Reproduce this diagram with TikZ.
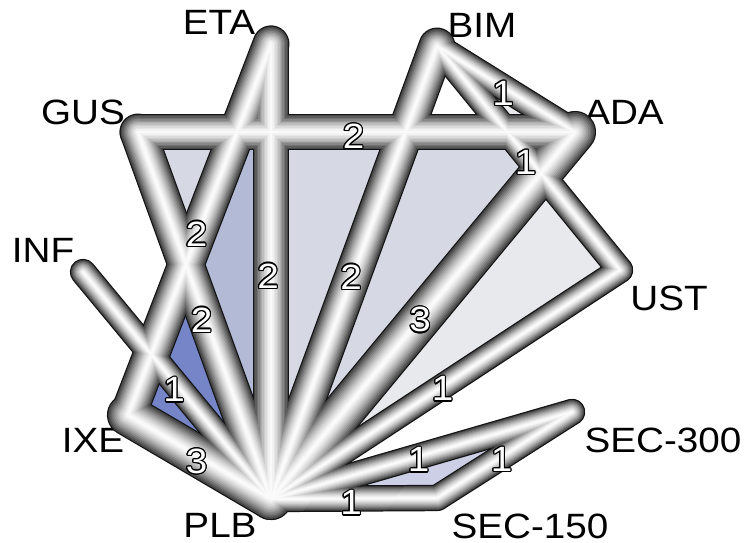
\documentclass[tikz,border=0pt]{standalone}
\usepackage{fontspec}
\usepackage{tikz}
\usepackage{contour}
\newfontfamily\schrift[FakeStretch=1.1]{Liberation Sans}
\contourlength{0.7pt}
\definecolor{dreieckblau}{RGB}{118,133,200}
\definecolor{dreieckgrau}{RGB}{200,204,219}
\definecolor{hellgrau}{RGB}{232,233,236}
\definecolor{lila}{RGB}{205,207,230}

\begin{document}
\begin{tikzpicture}[
      x=0.02cm, y=-0.02cm,
      rohr/.style={line cap=round, line join=round},
      beschriftung/.style={font=\schrift\fontsize{20}{24}\selectfont, inner sep=0pt},
      zahl/.style={font=\schrift\fontsize{20}{24}\selectfont, inner sep=0pt,
                   pos=0.5, xshift=-0.06cm, yshift=-0.1cm}
    ]
    \useasboundingbox (0,0) rectangle (751,543);
    % 1 Einheit = 1 Pixel, y nach unten

    % ---------- Behandlungen (Enden der Röhren) ----------
    \coordinate (ETA)  at (271,44);
    \coordinate (BIM)  at (437,46);
    \coordinate (GUS)  at (138,132);
    \coordinate (ADA)  at (575,132);
    \coordinate (INF)  at (83,272);
    \coordinate (UST)  at (620,270);
    \coordinate (IXE)  at (128,415);
    \coordinate (PLB)  at (271,499);
    \coordinate (S300) at (572,412);
    \coordinate (S150) at (437,498);

    \node[beschriftung] (tETA)  at (219,22)  {ETA};
    \node[beschriftung] (tBIM)  at (482,25)  {BIM};
    \node[beschriftung] (tGUS)  at (83,112)  {GUS};
    \node[beschriftung] (tADA)  at (624,112) {ADA};
    \node[beschriftung] (tINF)  at (43,250)  {INF};
    \node[beschriftung] (tUST)  at (669,298) {UST};
    \node[beschriftung] (tIXE)  at (93,440)  {IXE};
    \node[beschriftung] (tPLB)  at (220,525) {PLB};
    \node[beschriftung] (tS300) at (663,440) {SEC-300};
    \node[beschriftung] (tS150) at (530,526) {SEC-150};

    % ---------- mehrarmige Studien ----------
    \fill[hellgrau] (ADA) -- (PLB) -- (UST) -- (BIM) -- cycle;
    \fill[dreieckblau] (ETA) -- (IXE) -- (PLB) -- cycle;
    \fill[dreieckgrau, fill opacity=0.75] (GUS) -- (ADA) -- (PLB) -- cycle;
    \fill[lila] (PLB) -- (S150) -- (S300) -- cycle;

    % ---------- Röhren, Schicht für Schicht ----------
    % Breite: 1 Studie 15pt, 2 Studien 21pt, 3 Studien 24pt
    \foreach \k in {0,...,12}{
      \pgfmathsetmacro{\r}{\k==0 ? 1 : 1-(\k-1)/12}
      \pgfmathtruncatemacro{\g}{\k==0 ? 20 : 70+185*(1-\r^1.5)}
      \pgfmathsetmacro{\d}{\k==0 ? 0 : 1.4}
      \definecolor{rohrfarbe}{RGB}{\g,\g,\g}
      \foreach \a/\b/\w in {ETA/PLB/21, ETA/IXE/21, GUS/PLB/21, GUS/ADA/21,
                            BIM/ADA/15, BIM/UST/15, BIM/PLB/21, ADA/PLB/24,
                            UST/PLB/15, INF/PLB/15, IXE/PLB/24, PLB/S300/15,
                            S150/S300/15, PLB/S150/15}{
        \pgfmathsetmacro{\lw}{(\w-\d)*\r}
        \draw[rohr, draw=rohrfarbe, line width=\lw pt] (\a) -- (\b);
      }
    }

    % ---------- Anzahl der Studien ----------
    \foreach \a/\b/\z in {GUS/ADA/2, BIM/ADA/1, BIM/UST/1, ETA/IXE/2, GUS/PLB/2,
                          ETA/PLB/2, BIM/PLB/2, ADA/PLB/3, UST/PLB/1, INF/PLB/1,
                          IXE/PLB/3, PLB/S300/1, S150/S300/1, PLB/S150/1}{
      \path (\a) -- (\b) node[zahl] {\contour{black}{\textcolor{white}{\z}}};
    }
  \end{tikzpicture}
\end{document}
